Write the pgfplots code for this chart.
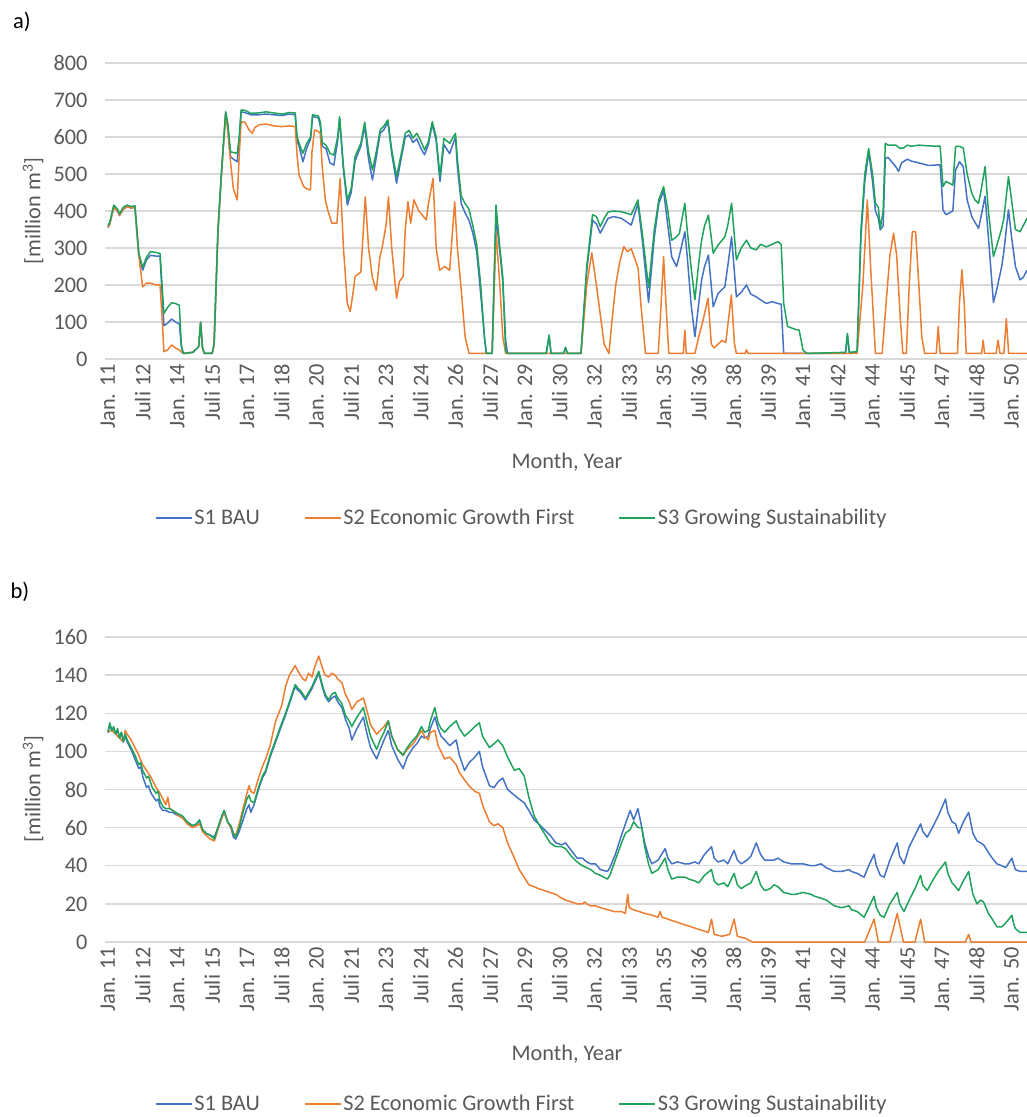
\documentclass[border=0pt]{standalone}
\usepackage{fontspec}
\setmainfont{Carlito}
\usepackage{pgfplots}
\pgfplotsset{compat=1.18}
\definecolor{sblue}{HTML}{4472C4}
\definecolor{sorange}{HTML}{ED7D31}
\definecolor{sgreen}{HTML}{1FA35C}
\definecolor{gridc}{HTML}{D9D9D9}
\definecolor{txt}{HTML}{595959}
\newcommand{\cf}{\fontsize{22.3}{26}\selectfont}
\pgfplotsset{
  excel/.style={
    scale only axis, width=922pt,
    xmin=-1.5, xmax=476,
    axis line style={draw=none},
    tick style={draw=none},
    ymajorgrids, major grid style={gridc, line width=1.3pt},
    xtick={0,18,...,468},
    xticklabels={Jan. 11,Juli 12,Jan. 14,Juli 15,Jan. 17,Juli 18,Jan. 20,Juli 21,Jan. 23,Juli 24,Jan. 26,Juli 27,Jan. 29,Juli 30,Jan. 32,Juli 33,Jan. 35,Juli 36,Jan. 38,Juli 39,Jan. 41,Juli 42,Jan. 44,Juli 45,Jan. 47,Juli 48,Jan. 50},
    xticklabel style={rotate=90, anchor=east, font=\cf, text=txt, inner xsep=4pt, inner ysep=0.5pt, xshift=-1pt},
    yticklabel style={font=\cf, text=txt, xshift=-14pt},
    /pgf/number format/assume math mode=true,
    every axis plot/.append style={line width=1.5pt, mark=none, line join=round},
    legend columns=3,
    legend style={draw=none, fill=none, font=\cf, text=txt, anchor=center,
      nodes={inner sep=2pt},
      /tikz/every even column/.append style={column sep=42pt}},
    legend image code/.code={\draw[#1] (0pt,0pt) -- (36pt,0pt);},
  }
}
\begin{document}
\begin{tikzpicture}[x=1pt,y=1pt]
\useasboundingbox (0,0) rectangle (1027,1117);
\node[font=\fontsize{22.5}{26}\selectfont, text=black] at (22,1095) {a)};
\node[font=\fontsize{22.5}{26}\selectfont, text=black] at (20,525) {b)};
\node[rotate=90, font=\cf, text=txt] at (33,906) {[million m\textsuperscript{3}]};
\node[rotate=90, font=\cf, text=txt] at (33,328) {[million m\textsuperscript{3}]};
\node[font=\cf, text=txt] at (567,655) {Month, Year};
\node[font=\cf, text=txt] at (567,63) {Month, Year};

% ---------- panel a ----------
\begin{axis}[excel, at={(105pt,758pt)}, anchor=south west, height=296pt,
  ymin=0, ymax=800, ytick={0,100,...,800},
  legend style={at={(axis description cs:0.452,-0.537)}}]
\addplot[sblue] coordinates {(0,355)(1,365)(3,410)(5,400)(6,388)(8,405)(10,412)(12,408)(14,410)(16,280)(18,240)(20,268)(22,280)(25,278)(27,278)(29,90)(31,97)(33,108)(35,100)(37,95)(38,35)(39,15)(44,18)(46,28)(47,33)(48,98)(49,30)(50,15)(54,15)(55,40)(57,345)(59,515)(61,665)(62,635)(63.5,547)(65,540)(67,533)(68,590)(69,668)(71,666)(74,660)(78,660)(82,662)(86,660)(90,658)(94,662)(97,660)(98,590)(99,575)(101,533)(103,570)(105,595)(106,655)(109,652)(110,630)(111,575)(113,569)(115,530)(117,524)(119,590)(120,650)(122,510)(124,416)(126,450)(128,535)(131,575)(133,630)(135,540)(137,484)(139,545)(141,610)(143,620)(145,640)(147,555)(149.5,475)(152,545)(154,600)(156,605)(158,585)(160,595)(162,570)(164,552)(166,580)(168,635)(170,590)(172,480)(174,580)(177,555)(180,600)(181,520)(183,420)(185,395)(187,375)(189,340)(191,290)(193,180)(195,60)(196,15)(199,15)(201,385)(203,290)(204.5,210)(206,49)(207,15)(227,15)(228.5,62)(229.5,15)(236,15)(237,30)(238,15)(245,15)(248,240)(251,375)(253,365)(255,340)(257,360)(259,380)(262,385)(266,380)(271,362)(274.5,420)(277,310)(280,153)(283,330)(285.3,420)(287.8,455)(290,360)(292,276)(294.5,250)(296,280)(298.8,344)(300,280)(302,150)(304,60)(306,150)(307.5,214)(309,250)(311,281)(313.5,141)(316,177)(319.5,195)(321,250)(323,330)(325.5,168)(328,180)(330.7,200)(333,175)(335.8,168)(338,160)(341,150)(344,155)(347,150)(348.7,148)(350,15)(382,15)(383,65)(384,15)(388,18)(390,330)(392,480)(394,560)(396,480)(397.5,400)(399,380)(400,349)(401.5,360)(402.6,542)(404,545)(408,520)(409.5,507)(411,530)(414,540)(416,535)(420,530)(425,523)(431,525)(432.5,403)(434,390)(437.6,400)(439,510)(441,533)(443,520)(445,430)(447.4,385)(449,370)(450.9,353)(452,380)(454.3,440)(456,330)(458.6,153)(460,180)(462.9,250)(464,290)(466.4,403)(468,330)(470,250)(472.4,214)(474,220)(476,240)};
\addlegendentry{S1 BAU}
\addplot[sorange] coordinates {(0,355)(1,365)(3,410)(5,400)(6,388)(8,405)(10,412)(12,408)(14,410)(16,280)(18,195)(20,205)(22,205)(25,200)(27,200)(28,120)(29,20)(31,25)(33,38)(35,30)(37,24)(39,15)(44,18)(46,28)(47,33)(48,98)(49,30)(50,15)(54,15)(55,40)(57,345)(59,515)(61,665)(62,620)(63.5,533)(65,460)(67,430)(68,550)(69,641)(71,640)(73,620)(74.8,610)(76,625)(78.3,633)(82,635)(86,630)(90,628)(94,630)(97,628)(98,550)(99,497)(101.4,466)(103,460)(104.9,457)(105.7,560)(107,619)(109,615)(110,610)(111,520)(112.6,430)(114,400)(116,367)(118.6,367)(120.3,488)(122,300)(124,150)(125.5,128)(127,180)(128,223)(131,235)(133.3,438)(135,300)(137,220)(139,185)(140.9,277)(142,300)(144,360)(145.3,438)(147,300)(149.5,164)(151,210)(152.9,223)(154,350)(155.4,425)(156.8,367)(158.5,430)(161,400)(164.9,376)(166,420)(168.4,488)(170,300)(171.8,240)(174.4,250)(177,240)(179.6,425)(181,300)(183,186)(185,60)(187,15)(199,15)(201,344)(203,200)(204.5,60)(206,15)(245,15)(248,200)(250.6,287)(253,200)(255,120)(257,40)(259.5,15)(261,100)(263,200)(265,260)(267.2,304)(269,290)(271,298)(273,270)(274.6,245)(276,150)(278.4,15)(285,15)(286,100)(287.8,277)(289,150)(290.5,15)(298,15)(298.8,78)(299.5,15)(304,15)(306,60)(308,100)(310.8,164)(312.5,40)(314,30)(316,40)(318,50)(320,45)(322.9,173)(324.5,40)(325.5,15)(330,15)(330.7,25)(331.5,15)(388,15)(391,200)(393.3,430)(395,250)(397.5,15)(401,15)(403,150)(405,280)(406.9,340)(408.5,280)(410.5,100)(411.7,15)(413.5,15)(415,200)(416.6,344)(418.3,344)(420,200)(421.5,60)(423,15)(429,15)(430,88)(431,15)(440,15)(441,150)(442.3,241)(443.5,150)(444.5,15)(452.5,15)(453.3,51)(454,15)(460,15)(461,51)(462,15)(464,15)(465.3,109)(466.5,15)(476,15)};
\addlegendentry{S2 Economic Growth First}
\addplot[sgreen] coordinates {(0,360)(1,370)(3,416)(5,405)(6,392)(8,410)(10,416)(12,412)(14,414)(16,286)(18,248)(20,275)(22,290)(25,288)(27,285)(29,123)(31,140)(33,152)(35,150)(37,145)(38,40)(39,15)(44,18)(46,28)(47,33)(48,100)(49,30)(50,15)(54,15)(55,40)(57,350)(59,520)(61,668)(62,640)(63.5,560)(65,558)(67,556)(68,600)(69,673)(71,672)(74,664)(78,665)(82,668)(86,665)(90,662)(94,666)(97,665)(98,600)(99,583)(101,556)(103,583)(105,600)(106,660)(109,657)(110,640)(111,585)(113,578)(115,556)(117,551)(119,600)(120,655)(122,520)(124,430)(126,460)(128,547)(131,583)(133,640)(135,560)(137,511)(139,560)(141,619)(143,630)(145,646)(147,565)(149.5,493)(152,556)(154,610)(156,618)(158,597)(160,610)(162,590)(164,565)(166,588)(168,641)(170,600)(172,493)(174,596)(177,583)(180,610)(181,540)(183,440)(185,420)(187,405)(189,360)(191,310)(193,204)(195,60)(196,15)(199,15)(201,416)(203,300)(204.5,222)(206,22)(207,15)(227,15)(228.5,65)(229.5,15)(236,15)(237,32)(238,15)(245,15)(248,250)(251,390)(253,385)(255,358)(257,380)(259,397)(262,400)(266,398)(271,390)(274.5,430)(277,330)(280,193)(283,350)(285.3,430)(287.8,466)(290,400)(292,321)(294.5,330)(296,340)(298.8,421)(300,350)(302,250)(304,160)(306,260)(307.5,321)(309,360)(311,389)(313.5,286)(316,308)(319.5,330)(321,360)(323,421)(325.5,268)(328,300)(330.7,321)(333,300)(335.8,295)(338,310)(341,303)(344,310)(347,317)(348.7,310)(350,150)(352,88)(354,84)(356,80)(358,78)(360,24)(362,15)(382,18)(383,69)(384,18)(388,20)(390,350)(392,500)(394,569)(396,500)(397.5,421)(399,410)(400,353)(401.5,400)(402.6,583)(404,578)(408,578)(410,570)(412,570)(414,578)(416,575)(420,578)(425,576)(431,575)(432.5,466)(434,480)(437.6,470)(439,574)(441,575)(443,570)(445,500)(447.4,448)(449,430)(450.9,421)(452,450)(454.3,520)(456,400)(458.6,277)(460,300)(462.9,353)(464,380)(466.4,493)(468,430)(470,350)(472.4,344)(474,360)(476,380)};
\addlegendentry{S3 Growing Sustainability}
\end{axis}

% ---------- panel b ----------
\begin{axis}[excel, at={(105pt,175pt)}, anchor=south west, height=305pt,
  ymin=0, ymax=160, ytick={0,20,...,160},
  legend style={at={(axis description cs:0.452,-0.531)}}]
\addplot[sblue] coordinates {(0,110)(1,114)(2,111)(3,112)(4,109)(5,111)(6,107)(7,110)(8,105)(9,108)(10,105)(12,101)(14,96)(16,91)(17,92)(18,87)(20,81)(21,82)(22,79)(23,77)(25,74)(26,75)(27,71)(28.5,69)(30,69)(32,68)(33.6,68)(35,67)(37,66)(38.8,65)(41,63)(43.9,61)(46,62)(47.4,64)(49,59)(50.8,57)(53,56)(55.1,55)(57,60)(59,66)(60.2,69)(62,63)(63.7,60)(65,55)(66.2,54)(68,58)(70,64)(72,70)(73.1,72)(74,68)(75.7,72)(78,80)(80,86)(81.7,89)(84,97)(86.9,105)(89,111)(92,119)(94,125)(97,134)(98.5,132)(99.7,131)(101,129)(102.3,127)(104,130)(105.7,133)(107,136)(109.2,141)(111,134)(112.5,129)(114.3,126)(116,128)(117.7,129)(119,126)(121.2,123)(123,117)(125,112)(126.3,106)(129,112)(132.3,118)(134,110)(136,102)(139.2,96)(141,101)(143,106)(145.2,111)(147,103)(150,96)(152.9,91)(155,97)(158.1,102)(160,104)(162.4,108)(164,107)(165.9,108)(167,112)(169.3,118)(171,112)(172.5,108)(174.4,106)(177,103)(180.4,106)(182,98)(184.7,90)(187,94)(190,97)(192.4,100)(194,92)(197.6,82)(200,81)(202,84)(204.5,86)(207,80)(210.5,77)(213,75)(215.6,73)(218,69)(220.8,64)(223,62)(226,59)(229,56)(232,52)(235,51)(237,52)(240,48)(243,44)(245.7,44)(248,42)(250,41)(252.5,41)(255,38)(258.7,37)(260,39)(262.8,46)(266,56)(268,62)(270.5,69)(272.3,64)(274.5,70)(276.5,60)(278,52)(280,45)(281.7,41)(285,43)(288.6,49)(290,44)(292,41)(295,42)(298.8,41)(301,41)(304,42)(306,41)(309,46)(312.6,50)(314,44)(316,42)(319,43)(321,41)(324.3,48)(326,43)(328,41)(331,43)(333,45)(335.8,52)(338,46)(340.1,43)(343,43)(345,43)(347,44)(350,42)(353.9,41)(356,41)(360,41)(364.1,40)(366,40)(369.3,41)(372,39)(376.2,37)(380,37)(383.9,38)(385,37)(388,36)(391.6,34)(394,40)(396.8,46)(398,40)(400,35)(402,34)(405,43)(408.8,52)(410,45)(412.3,41)(415,50)(418,56)(420.9,62)(422,58)(424.3,55)(427,60)(430,66)(433.8,75)(435,68)(437.2,63)(439,62)(440.6,57)(443,63)(445.8,68)(447,62)(448,57)(450.1,53)(452,52)(453.5,51)(456,47)(458,44)(460.4,41)(463,40)(465,39)(468.2,44)(469,41)(470,38)(472.4,37)(476,37)};
\addlegendentry{S1 BAU}
\addplot[sorange] coordinates {(0,110)(2,111)(4,109)(6,107)(8,105)(9,111)(10,109)(12,106)(14,102)(16,98)(18,93)(20,90)(22,87)(23,85)(25,81)(27,78)(28.5,75)(30,72)(31,76)(32,70)(33.6,69)(35,68)(37,66)(38.8,65)(41,62)(43.9,60)(46,61)(47.4,62)(49,58)(50.8,56)(53,54)(55.1,53)(57,59)(59,65)(60.2,68)(62,63)(63.7,60)(65,57)(66.2,56)(68,62)(70,70)(72,78)(73.1,82)(74,79)(75.7,78)(78,86)(80,92)(81.7,96)(84,103)(86.9,116)(88.5,120)(90,124)(92,134)(94,140)(97,145)(98.5,142)(99.7,140)(101,138)(102.3,137)(104,141)(105.7,139)(107,144)(109.2,150)(111,144)(112.5,140)(114.3,139)(116,141)(117.7,140)(119,138)(121.2,136)(123,130)(125,126)(126.3,122)(129,126)(132.3,128)(134,122)(136,114)(139.2,109)(141,111)(143,113)(145.2,116)(147,108)(150,101)(152.9,98)(155,101)(158.1,104)(160,107)(162.4,111)(164,108)(165.9,106)(167,110)(169.3,111)(171,103)(172.5,100)(174.4,96)(177,97)(180.4,93)(182,89)(184.7,85)(187,82)(190,79)(192.4,78)(194,72)(197.6,63)(200,61)(202,62)(204.5,60)(207,52)(210.5,44)(213,38)(215.6,34)(218,30)(220.8,29)(223,28)(226,27)(229,26)(232,25)(235,23)(237,22)(240,21)(243,20)(245.7,20)(247,21)(248,20)(250,19)(252.5,19)(255,18)(258.7,17)(262,16)(266,16)(268,15)(269.2,25)(270,18)(272,17)(275,16)(278,15)(282,14)(285,13)(286,16)(287,13)(290,12)(293,11)(296,10)(298.8,9)(302,8)(305,7)(308,6)(311,5)(312.6,12)(314,4)(318,3)(322,4)(324.3,12)(326,3)(330,2)(334,0)(392,0)(396.8,12)(399,0)(405,0)(408.8,15)(412,0)(418,0)(420.9,12)(423,0)(444,0)(445.8,4)(447,0)(476,0)};
\addlegendentry{S2 Economic Growth First}
\addplot[sgreen] coordinates {(0,110)(1,115)(2,111)(3,113)(4,109)(5,112)(6,107)(7,110)(8,105)(9,109)(10,106)(12,102)(14,98)(16,93)(17,94)(18,90)(20,86)(21,87)(22,84)(23,81)(25,78)(26,79)(27,74)(28.5,71)(30,70)(32,70)(33.6,69)(35,68)(37,67)(38.8,66)(41,63)(43.9,61)(46,62)(47.4,64)(49,59)(50.8,57)(53,56)(55.1,54)(57,60)(59,66)(60.2,69)(62,63)(63.7,61)(65,57)(66.2,55)(68,60)(70,68)(72,75)(73.1,77)(74,74)(75.7,73)(78,81)(80,87)(81.7,90)(84,98)(86.9,106)(89,112)(92,120)(94,126)(97,135)(98.5,133)(99.7,132)(101,130)(102.3,128)(104,131)(105.7,134)(107,137)(109.2,142)(111,135)(112.5,130)(114.3,127)(116,130)(117.7,131)(119,128)(121.2,125)(123,119)(125,116)(126.3,113)(129,118)(132.3,123)(134,116)(136,108)(139.2,101)(141,106)(143,110)(145.2,116)(147,108)(150,101)(152.9,98)(155,102)(158.1,106)(160,108)(162.4,113)(164,110)(165.9,111)(167,116)(169.3,123)(171,115)(172.5,112)(174.4,110)(177,113)(180.4,116)(182,112)(184.7,108)(187,110)(190,113)(192.4,115)(194,108)(197.6,102)(200,104)(202,106)(204.5,103)(207,97)(210.5,90)(213,91)(215.6,87)(218,76)(220.8,66)(223,62)(226,57)(229,52)(232,50)(235,50)(237,49)(240,45)(243,42)(245.7,40)(248,39)(250,38)(252.5,36)(255,35)(258.7,33)(260,35)(262.8,43)(266,52)(268,57)(270.5,59)(272.3,63)(274.5,60)(276.5,60)(278,50)(280,41)(281.7,36)(285,38)(288.6,44)(290,38)(292,33)(295,34)(298.8,34)(301,33)(304,32)(306,31)(309,35)(312.6,38)(314,32)(316,30)(319,31)(321,29)(324.3,36)(326,30)(328,28)(331,30)(333,31)(335.8,37)(338,30)(340.1,27)(343,28)(345,30)(347,29)(350,26)(353.9,25)(356,25)(360,26)(364.1,25)(366,24)(369.3,23)(372,22)(376.2,19)(380,18)(383.9,19)(385,17)(388,16)(391.6,13)(394,18)(396.8,24)(398,18)(400,14)(402,13)(405,20)(408.8,26)(410,20)(412.3,16)(415,22)(418,28)(420.9,35)(422,30)(424.3,27)(427,32)(430,37)(433.8,42)(435,36)(437.2,31)(439,29)(440.6,27)(443,32)(445.8,37)(447,30)(448,25)(450.1,20)(452,22)(453.5,21)(456,15)(458,12)(460.4,8)(463,8)(465,10)(468.2,14)(469,10)(470,7)(472.4,5)(476,5)};
\addlegendentry{S3 Growing Sustainability}
\end{axis}
\end{tikzpicture}
\end{document}
